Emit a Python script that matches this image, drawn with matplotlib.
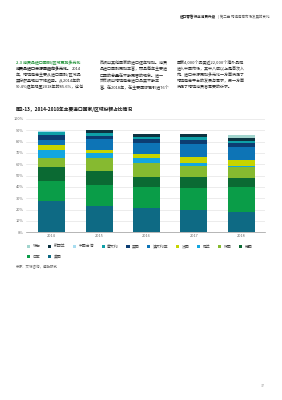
import matplotlib
matplotlib.use('Agg')
import matplotlib.pyplot as plt
import numpy as np

plt.rcParams['font.family'] = ['Noto Sans CJK SC', 'DejaVu Sans']

years = ['2014', '2015', '2016', '2017', '2018']

# 份额 (%)，自下而上堆叠
usa = [27.4, 23.2, 21.2, 19.8, 17.8]
japan = [18.1, 18.5, 19.0, 19.6, 22.4]
germany = [12.4, 12.4, 8.9, 9.1, 7.4]
korea = [8.0, 11.2, 12.3, 10.0, 10.3]
netherlands = [6.5, 4.4, 3.9, 2.9, 0.4]
france = [5.0, 3.2, 3.8, 5.3, 5.5]
australia = [3.8, 9.4, 9.5, 11.6, 11.2]
uk = [4.4, 2.9, 3.5, 3.5, 3.6]
italy = [2.7, 2.4, 2.3, 2.5, 2.0]
taiwan = [1.5, 0, 0, 0, 0]
newzealand = [0, 2.3, 2.4, 2.4, 2.5]
swiss = [0, 0, 0, 0, 2.5]

series = [
    ('美国', usa, '#0E6A84'),
    ('日本', japan, '#0A9D48'),
    ('德国', germany, '#0B6A33'),
    ('韩国', korea, '#86BA30'),
    ('荷兰', netherlands, '#12A6E0'),
    ('法国', france, '#C6D400'),
    ('澳大利亚', australia, '#0D74B6'),
    ('英国', uk, '#0C3D72'),
    ('意大利', italy, '#0EA0A8'),
    ('中国台湾', taiwan, '#A8DDF0'),
    ('新西兰', newzealand, '#0D3341'),
    ('瑞士', swiss, '#A2D5CE'),
]

W, H = 282, 400
fig = plt.figure(figsize=(W / 100, H / 100), dpi=100)

def px(x, y):
    return x / W, 1 - y / H

# 页眉
fig.text(*px(180, 17), '进口零售行业消费升级', fontsize=2.6, fontweight='bold',
         color='#222222', va='center')
fig.text(*px(218, 17), '| 第二章 跨境电商市场发展的变化', fontsize=2.5,
         color='#555555', va='center')

# 正文
col1 = ['年，跨境电商主要从进口国别/区域品',
        '类份额呈现出下降趋势。从2014年的',
        '90.4%逐年降至2018年的85.6%，这也']
col2 = ['反映出其他国家的进口逐年增加。消费',
        '品进口国别更加丰富，而且每年主要进',
        '口国的总量在不断更替的现象。进一',
        '步反映出跨境电商进口品类不断丰',
        '富。在2018年，在主要国际已引进76个']
col3 = ['国家4,000个品类近22,000个海外品牌',
        '进入中国市场，其中八成以上是首次入',
        '市。进口来源更加多元化一方面满足了',
        '跨境电商平台的发展与需求，另一方面',
        '满足了跨境消费者需要的诉求。']
fs = 2.9
fig.text(*px(16, 63), '2.3 消费品进口国别/区域更加多元化', fontsize=fs,
         fontweight='bold', color='#2A9640', va='center')
fig.text(*px(16, 69), '消费品进口来源国趋向多元化。', fontsize=fs,
         fontweight='bold', color='#111111', va='center')
fig.text(*px(72, 69), '2014', fontsize=fs, color='#222222', va='center')
for i, s in enumerate(col1):
    fig.text(*px(16, 75 + 6 * i), s, fontsize=fs, color='#222222', va='center')
for i, s in enumerate(col2):
    fig.text(*px(100, 63 + 6 * i), s, fontsize=fs, color='#222222', va='center')
for i, s in enumerate(col3):
    fig.text(*px(177, 63 + 6 * i), s, fontsize=fs, color='#222222', va='center')

# 图标题
fig.text(*px(16, 109), '图2-13，2014-2018年主要进口国家/区域份额占比情况',
         fontsize=3.4, fontweight='bold', color='#111111', va='center')

# 图表
ax = fig.add_axes([26 / W, 1 - 232.3 / H, (265 - 26) / W, (232.3 - 119) / H])
x = np.arange(len(years))
bottom = np.zeros(len(years))
handles = {}
for name, vals, color in series:
    v = np.array(vals) / 100
    b = ax.bar(x, v, 0.57, bottom=bottom, color=color, linewidth=0, zorder=3)
    handles[name] = b
    bottom += v

ax.set_xlim(-0.54, 4.5)
ax.set_ylim(0, 1)
ax.set_yticks(np.arange(0, 1.01, 0.1))
ax.set_yticklabels([f'{int(round(t * 100))}%' for t in np.arange(0, 1.01, 0.1)])
ax.set_xticks(x)
ax.set_xticklabels(years)
ax.tick_params(length=0, labelsize=2.8, labelcolor='#666666', pad=1.5)
ax.grid(axis='y', color='#dddddd', linewidth=0.4, zorder=0)
for s in ['top', 'right', 'left']:
    ax.spines[s].set_visible(False)
ax.spines['bottom'].set_color('#999999')
ax.spines['bottom'].set_linewidth(0.5)

order = ['瑞士', '日本', '新西兰', '美国', '中国台湾', '意大利', '英国',
         '澳大利亚', '法国', '荷兰', '韩国', '德国']
leg = fig.legend([handles[n] for n in order], order, ncol=10,
                 loc='upper left', bbox_to_anchor=px(27, 244.5),
                 frameon=False, fontsize=2.8, handlelength=0.8,
                 handleheight=0.8, handletextpad=0.6, columnspacing=2.0,
                 labelspacing=1.6, borderaxespad=0, borderpad=0)
for t in leg.get_texts():
    t.set_color('#444444')

fig.text(*px(16, 267), '来源：艾瑞咨询，德勤研究', fontsize=2.5, color='#666666',
         va='center')
fig.text(*px(263, 386), '37', fontsize=2.6, color='#999999', va='center',
         ha='center')

fig.savefig('out.png', dpi=100)
